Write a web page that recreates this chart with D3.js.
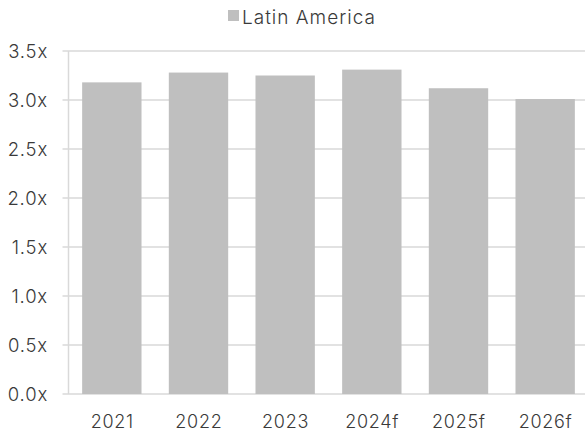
<!DOCTYPE html>
<html>
<head>
<meta charset="utf-8">
<script src="https://cdn.jsdelivr.net/npm/d3@7/dist/d3.min.js"></script>
<style>
  body { margin: 0; background: #fff; }
  text { font-family: Inter, sans-serif; font-weight: 300; fill: #3a3a3a; }
</style>
</head>
<body>
<div id="chart"></div>
<script>
var categories = ['2021', '2022', '2023', '2024f', '2025f', '2026f'];
var values = [3.18, 3.28, 3.25, 3.31, 3.12, 3.01];
var yTicks = [0, 0.5, 1, 1.5, 2, 2.5, 3, 3.5];
var seriesName = 'Latin America';

var width = 585;
var height = 436;
var margin = { top: 51, right: -3.5, bottom: 42, left: 68.5 };

var svg = d3.select('#chart').append('svg')
    .attr('width', width)
    .attr('height', height);

var x = d3.scaleBand()
    .domain(categories)
    .range([margin.left, width - margin.right])
    .paddingInner(0.315)
    .paddingOuter(0.1575);

var y = d3.scaleLinear()
    .domain([0, 3.5])
    .range([height - margin.bottom, margin.top]);

// gridlines + ticks
svg.append('g')
    .selectAll('line')
    .data(yTicks)
    .enter()
    .append('line')
    .attr('x1', margin.left - 6)
    .attr('x2', width)
    .attr('y1', function (d) { return y(d); })
    .attr('y2', function (d) { return y(d); })
    .attr('stroke', '#d9d9d9')
    .attr('stroke-width', 1.5);

// y axis line
svg.append('line')
    .attr('x1', margin.left)
    .attr('x2', margin.left)
    .attr('y1', y(3.5))
    .attr('y2', y(0))
    .attr('stroke', '#d9d9d9')
    .attr('stroke-width', 1.5);

svg.append('g')
    .selectAll('rect')
    .data(values)
    .enter()
    .append('rect')
    .attr('x', function (d, i) { return x(categories[i]); })
    .attr('y', function (d) { return y(d); })
    .attr('width', x.bandwidth())
    .attr('height', function (d) { return y(0) - y(d); })
    .attr('fill', '#bfbfbf');

// y labels
svg.append('g')
    .selectAll('text')
    .data(yTicks)
    .enter()
    .append('text')
    .attr('x', 48)
    .attr('y', function (d) { return y(d) + 6.5; })
    .attr('text-anchor', 'end')
    .style('font-size', '18.5px')
    .style('letter-spacing', '0.8px')
    .text(function (d) { return d3.format('.1f')(d) + 'x'; });

// x labels
svg.append('g')
    .selectAll('text')
    .data(categories)
    .enter()
    .append('text')
    .attr('x', function (d) { return x(d) + x.bandwidth() / 2 + 0.4; })
    .attr('y', 428)
    .attr('text-anchor', 'middle')
    .style('font-size', '18px')
    .style('letter-spacing', '0.7px')
    .text(function (d) { return d; });

// legend
var legend = svg.append('g');
legend.append('rect')
    .attr('x', 228)
    .attr('y', 10)
    .attr('width', 11)
    .attr('height', 11)
    .attr('fill', '#bfbfbf');
legend.append('text')
    .attr('x', 242)
    .attr('y', 24)
    .style('font-size', '19px')
    .style('letter-spacing', '1px')
    .text(seriesName);
</script>
</body>
</html>
